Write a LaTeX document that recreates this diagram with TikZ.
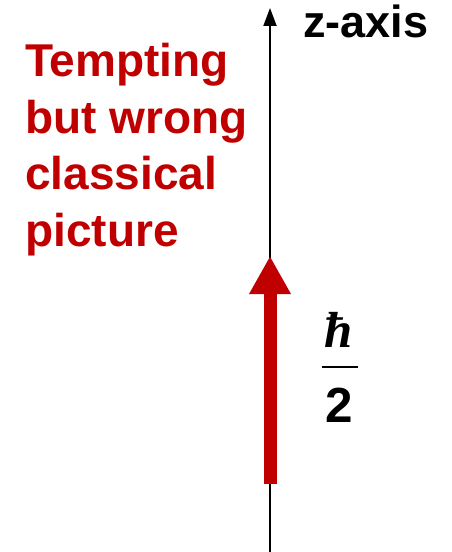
\documentclass[tikz,border=0pt]{standalone}
\usepackage{fontspec}
\setmainfont{Liberation Sans}
\newfontfamily\hbarfont{Liberation Serif}
\usepackage{tikz}
\usetikzlibrary{arrows.meta,positioning}
\definecolor{spinred}{HTML}{C00000}
\tikzset{
  axisline/.style={line width=1.5pt, -{Triangle[length=13.5pt,width=9.75pt]}},
  spinarrow/.style={draw=spinred, line width=9.75pt, -{Triangle[length=28.5pt,width=29.25pt]}},
  bigtext/.style={font=\fontsize{33.75}{40.9}\selectfont\bfseries, inner sep=0pt}
}

\begin{document}
\begin{tikzpicture}[x=0.75pt, y=-0.75pt]
\useasboundingbox (0,0) rectangle (451,552);

% z axis
\coordinate (axbot) at (270,552);
\coordinate (axtop) at (270,8);
\draw[axisline] (axbot) -- (axtop);
\node[bigtext, anchor=base west] (zlabel) at (303,38) {z-axis};

% spin vector
\coordinate (spinbot) at (270,484);
\coordinate (spintop) at (270,256);
\draw[spinarrow] (spinbot) -- (spintop);

% hbar over 2
\node[fill, minimum width=27pt, minimum height=1.5pt, inner sep=0pt] (fracbar) at (340,367) {};
\node[font=\fontsize{38}{45}\selectfont\hbarfont\bfseries\itshape, inner sep=0pt, anchor=base] (hnum) at (339,347) {ħ};
\node[bigtext, font=\fontsize{37}{44}\selectfont\bfseries, anchor=base] (hden) at (339,422) {2};

\node[bigtext, font=\fontsize{34.5}{42.5}\selectfont\bfseries, text=spinred, align=left, anchor=north west] (caption) at (25,43)
  {Tempting\\but wrong\\classical\\picture};
\end{tikzpicture}
\end{document}
